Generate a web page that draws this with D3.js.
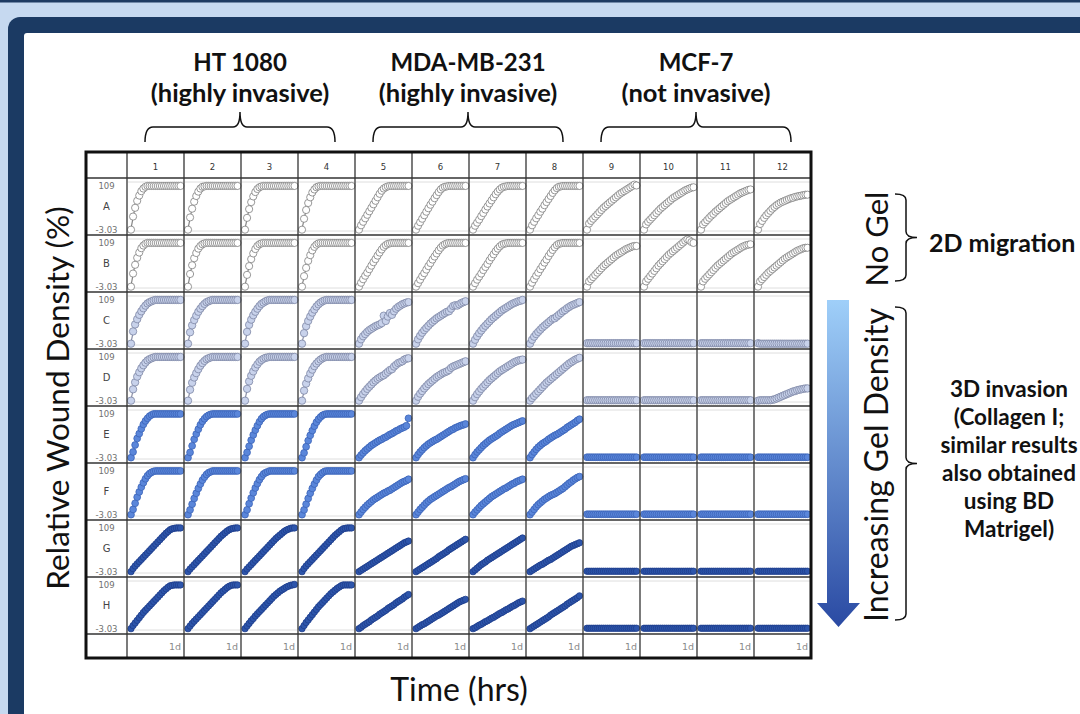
<!DOCTYPE html>
<html><head><meta charset="utf-8">
<script src="https://cdn.jsdelivr.net/npm/d3@7"></script>
<style>body{margin:0;background:#c6d9f0;overflow:hidden}svg{display:block}</style>
</head><body>
<svg id="chart" width="1080" height="714"></svg>
<script>
// ---------------- DATA ----------------
const columns = ["1","2","3","4","5","6","7","8","9","10","11","12"];
const rows = ["A","B","C","D","E","F","G","H"];
const yDomain = [-3.03, 109];
const yTickLabels = ["109", "-3.03"];
const xEndLabel = "1d";
const hours = [0,1,2,3,4,5,6,7,8,9,10,11,12,13,14,15,16,17,18,19,20,21,22,23,24];

const rowA = [
 [0,30,50,66,78,88,94,98,100,100,100,100,100,100,100,100,100,100,100,100,100,100,100,100,100],
 [0,28,48,64,77,87,94,98,99,100,100,100,100,100,100,100,100,100,100,100,100,100,100,100,100],
 [0,27,47,63,76,86,93,97,99,100,100,100,100,100,100,100,100,100,100,100,100,100,100,100,100],
 [0,25,45,61,74,85,92,97,99,100,100,100,100,100,100,100,100,100,100,100,100,100,100,100,100],
 [0,10,18,26,34,42,50,58,66,74,82,89,94,97,99,100,100,100,100,100,100,100,100,100,100],
 [0,9,17,25,33,41,49,57,64,72,79,86,92,96,98,99,100,100,100,100,100,100,100,100,100],
 [0,9,16,23,31,38,46,53,60,67,74,81,87,92,96,98,99,100,100,100,100,100,100,100,100],
 [0,10,18,26,33,41,48,56,63,70,77,84,90,95,98,99,100,100,100,100,100,100,100,100,100],
 [0,14,20,25,30,35,40,45,50,54,58,62,66,70,74,78,82,85,88,91,94,97,100,103,101],
 [0,12,18,23,28,33,38,43,48,52,56,60,64,68,72,75,78,81,84,87,90,92,94,96,97],
 [0,12,17,22,27,32,36,41,45,49,53,57,61,65,68,71,74,77,80,83,85,87,89,91,92],
 [0,13,20,27,33,38,43,48,52,56,59,62,64,66,68,70,72,73,75,76,77,78,79,80,80]
];
const rowB = [
 [0,30,50,66,78,88,94,98,100,100,100,100,100,100,100,100,100,100,100,100,100,100,100,100,100],
 [0,29,49,65,77,87,93,97,99,100,100,100,100,100,100,100,100,100,100,100,100,100,100,100,100],
 [0,27,47,63,76,86,93,97,99,100,100,100,100,100,100,100,100,100,100,100,100,100,100,100,100],
 [0,24,43,59,72,83,91,96,99,100,100,100,100,100,100,100,100,100,100,100,100,100,100,100,100],
 [0,9,17,25,32,40,48,56,63,71,78,85,91,95,98,99,100,100,100,100,100,100,100,100,100],
 [0,8,16,24,31,39,47,54,62,69,76,83,89,94,97,99,100,100,100,100,100,100,100,100,100],
 [0,8,16,23,30,38,45,52,60,67,74,81,87,92,96,98,99,100,100,100,100,100,100,100,100],
 [0,9,17,25,32,40,47,55,62,70,77,84,90,95,98,99,100,100,100,100,100,100,100,100,100],
 [0,12,17,22,27,32,37,42,47,51,55,59,63,67,71,74,77,80,83,86,88,90,92,93,93],
 [0,12,18,24,30,36,42,48,53,58,63,68,73,77,81,85,89,93,97,101,105,108,106,102,100],
 [0,12,18,23,28,33,38,43,48,52,56,60,64,68,72,76,79,82,85,88,91,93,95,96,97],
 [0,12,17,22,27,32,36,40,44,48,52,56,60,64,67,70,73,76,79,82,84,86,88,89,89]
];
const rowC = [
 [0,28,44,56,66,74,81,87,92,95,97,99,100,100,100,100,100,100,100,100,100,100,100,100,100],
 [0,26,42,54,64,73,80,86,91,95,97,99,100,100,100,100,100,100,100,100,100,100,100,100,100],
 [0,27,43,55,65,73,80,86,91,94,97,99,100,100,100,100,100,100,100,100,100,100,100,100,100],
 [0,24,40,52,62,71,78,85,90,94,97,99,100,100,100,100,100,100,100,100,100,100,100,100,100],
 [0,10,17,22,27,31,34,37,40,42,44,47,64,52,62,70,66,74,80,84,87,90,92,94,95],
 [0,10,18,25,31,36,41,46,50,54,58,61,64,67,70,73,74,80,86,88,87,90,93,95,97],
 [0,9,17,24,30,36,41,46,51,56,60,64,68,72,76,79,82,85,88,91,93,95,97,98,100],
 [0,9,16,22,27,32,37,41,45,49,53,57,58,62,66,70,74,77,81,84,87,89,91,93,95],
 [1,1,1,1,1,1,1,1,1,1,1,1,1,1,1,1,1,1,1,1,1,1,1,1,1],
 [1,1,1,1,1,1,1,1,1,1,1,1,1,1,1,1,1,1,1,1,1,1,1,1,1],
 [1,1,1,1,1,1,1,1,1,1,1,1,1,1,1,1,1,1,1,1,1,1,1,1,1],
 [1,0,0,0,0,0,0,0,0,0,0,0,0,0,0,0,0,0,0,0,0,0,0,0,0]
];
const rowD = [
 [0,26,42,55,65,74,81,87,92,95,97,99,100,100,100,100,100,100,100,100,100,100,100,100,100],
 [0,25,41,53,63,72,80,86,91,95,97,99,100,100,100,100,100,100,100,100,100,100,100,100,100],
 [0,27,44,57,67,76,83,89,93,96,98,99,100,100,100,100,100,100,100,100,100,100,100,100,100],
 [0,23,39,51,62,71,79,85,90,94,97,99,100,100,100,100,100,100,100,100,100,100,100,100,100],
 [0,8,15,21,27,32,37,42,46,50,53,56,58,62,66,70,72,78,82,86,88,90,94,96,97],
 [0,9,16,22,28,33,38,42,46,50,54,57,60,63,65,67,70,75,78,80,82,84,86,88,90],
 [0,8,15,21,27,32,37,42,47,51,55,59,63,67,70,73,76,79,82,85,88,90,92,93,94],
 [0,6,11,16,21,26,31,36,41,45,49,53,57,61,65,69,73,77,81,85,88,91,94,96,98],
 [1,1,1,1,1,1,1,1,1,1,1,1,1,1,1,1,1,1,1,1,1,1,1,1,1],
 [1,1,1,1,1,1,1,1,1,1,1,1,1,1,1,1,1,1,1,1,1,1,1,1,1],
 [1,1,1,1,1,1,1,1,1,1,1,1,1,1,1,1,1,1,1,1,1,1,1,1,1],
 [0,1,1,1,1,1,1,2,3,5,7,9,11,13,15,17,19,21,22,24,25,26,27,28,28]
];
const rowE = [
 [0,13,29,44,55,66,76,84,90,95,98,100,100,100,100,100,100,100,100,100,100,100,100,100,100],
 [0,12,27,42,54,65,75,83,89,94,97,99,100,100,100,100,100,100,100,100,100,100,100,100,100],
 [0,12,26,40,52,63,73,82,89,94,97,99,100,100,100,100,100,100,100,100,100,100,100,100,100],
 [0,11,25,39,51,62,72,81,88,93,97,99,100,100,100,100,100,100,100,100,100,100,100,100,100],
 [0,6,11,16,20,24,28,31,34,37,40,42,45,47,50,53,55,58,61,63,66,68,70,73,90],
 [0,7,13,18,23,27,31,34,37,40,42,45,48,51,54,57,60,63,65,68,70,72,74,75,77],
 [0,7,13,18,23,28,32,36,40,43,46,49,52,56,59,62,65,68,71,74,76,78,80,82,84],
 [0,7,13,19,24,28,32,35,38,42,45,48,51,53,56,59,62,65,69,72,75,78,81,85,88],
 [1,1,1,1,1,1,1,1,1,1,1,1,1,1,1,1,1,1,1,1,1,1,1,1,1],
 [1,1,1,1,1,1,1,1,1,1,1,1,1,1,1,1,1,1,1,1,1,1,1,1,1],
 [1,1,1,1,1,1,1,1,1,1,1,1,1,1,1,1,1,1,1,1,1,1,1,1,1],
 [1,1,1,1,1,1,1,1,1,1,1,1,1,1,1,1,1,1,1,1,1,1,1,1,1]
];
const rowF = [
 [0,12,26,40,52,63,73,82,89,94,97,99,100,100,100,100,100,100,100,100,100,100,100,100,100],
 [0,11,24,37,49,60,70,79,86,92,96,98,100,100,100,100,100,100,100,100,100,100,100,100,100],
 [0,11,25,38,50,61,71,80,87,93,96,98,100,100,100,100,100,100,100,100,100,100,100,100,100],
 [0,11,24,37,49,60,70,79,87,92,96,99,100,100,100,100,100,100,100,100,100,100,100,100,100],
 [0,6,12,17,22,26,30,34,37,40,43,46,49,51,54,56,59,62,65,68,71,74,76,78,81],
 [0,6,12,17,22,27,31,35,38,41,44,47,50,53,56,59,62,64,67,70,73,76,78,80,82],
 [0,6,11,16,21,25,29,33,37,41,44,47,50,53,56,59,61,64,67,70,72,75,77,79,81],
 [0,6,12,18,23,27,31,35,38,41,44,46,48,51,54,57,60,64,68,72,75,79,82,85,87],
 [1,1,1,1,1,1,1,1,1,1,1,1,1,1,1,1,1,1,1,1,1,1,1,1,1],
 [1,1,1,1,1,1,1,1,1,1,1,1,1,1,1,1,1,1,1,1,1,1,1,1,1],
 [1,1,1,1,1,1,1,1,1,1,1,1,1,1,1,1,1,1,1,1,1,1,1,1,1],
 [1,1,1,1,1,1,1,1,1,1,1,1,1,1,1,1,1,1,1,1,1,1,1,1,1]
];
const rowG = [
 [0,7,13,18,23,28,33,38,43,48,53,58,63,68,73,78,83,88,92,96,98,99,100,100,100],
 [0,6,11,16,21,26,31,36,41,46,51,56,61,66,71,76,81,85,89,93,96,98,99,100,100],
 [0,6,11,16,21,26,31,36,41,46,51,56,61,66,71,76,80,84,88,92,95,97,99,100,100],
 [0,7,13,18,23,28,33,38,43,48,53,58,63,68,73,78,83,87,91,95,98,99,100,100,100],
 [0,3,6,9,12,15,18,21,24,27,30,33,36,39,42,45,48,51,54,57,60,63,66,68,70],
 [0,3,6,9,12,15,18,21,24,27,30,34,37,40,43,46,50,53,56,59,62,65,68,71,74],
 [0,4,8,12,16,19,22,26,29,32,35,38,41,44,47,50,53,56,59,62,65,68,71,74,77],
 [0,3,6,9,12,15,17,20,23,26,28,31,34,37,40,43,46,49,52,55,58,60,62,64,66],
 [1,1,1,1,1,1,1,1,1,1,1,1,1,1,1,1,1,1,1,1,1,1,1,1,1],
 [1,1,1,1,1,1,1,1,1,1,1,1,1,1,1,1,1,1,1,1,1,1,1,1,1],
 [1,1,1,1,1,1,1,1,1,1,1,1,1,1,1,1,1,1,1,1,1,1,1,1,1],
 [1,1,1,1,1,1,1,1,1,1,1,1,1,1,1,1,1,1,1,1,1,1,1,1,1]
];
const rowH = [
 [0,7,13,19,25,31,37,42,47,52,57,62,67,72,77,82,87,91,95,98,99,100,100,100,100],
 [0,6,12,17,22,27,32,37,42,47,52,57,62,67,72,77,82,86,90,94,97,99,100,100,100],
 [0,6,12,18,23,29,34,39,44,49,54,59,64,69,74,78,82,86,89,92,95,97,99,100,101],
 [0,7,14,20,26,32,38,44,50,55,60,65,70,75,80,84,88,92,95,98,100,100,100,100,100],
 [0,3,7,10,13,16,20,23,26,29,33,36,39,42,46,49,52,55,59,62,65,68,72,75,78],
 [0,3,6,9,11,14,17,20,23,26,29,31,34,37,40,43,46,49,52,55,58,61,63,65,67],
 [0,2,5,8,10,13,16,18,21,24,26,29,32,35,37,40,43,45,48,51,53,56,59,61,63],
 [0,3,6,9,12,15,18,21,24,27,31,34,37,40,43,46,49,52,56,59,62,65,68,71,75],
 [1,1,1,1,1,1,1,1,1,1,1,1,1,1,1,1,1,1,1,1,1,1,1,1,1],
 [1,1,1,1,1,1,1,1,1,1,1,1,1,1,1,1,1,1,1,1,1,1,1,1,1],
 [1,1,1,1,1,1,1,1,1,1,1,1,1,1,1,1,1,1,1,1,1,1,1,1,1],
 [1,1,1,1,1,1,1,1,1,1,1,1,1,1,1,1,1,1,1,1,1,1,1,1,1]
];

const groupTitles = [["HT 1080","(highly invasive)"],["MDA-MB-231","(highly invasive)"],["MCF-7","(not invasive)"]];
const groupColumns = [["1","4"],["5","8"],["9","12"]];
const sideLabelTop = "No Gel";
const sideLabelBottom = "Increasing Gel Density";
const noteTop = "2D migration";
const noteBottom = ["3D invasion","(Collagen I;","similar results","also obtained","using BD","Matrigel)"];
const yTitle = "Relative Wound Density (%)";
const xTitle = "Time (hrs)";

// ---------------- DRAWING ----------------
const seriesByRow = [rowA,rowB,rowC,rowD,rowE,rowF,rowG,rowH];
const svg = d3.select("#chart");
const W = 1080, H = 714;

// page frame
svg.append("rect").attr("width",W).attr("height",H).attr("fill","#c6d9f0");
svg.append("rect").attr("width",W).attr("height",2.5).attr("fill","#1d3a62");
svg.append("rect").attr("x",8).attr("y",17).attr("width",1100).attr("height",760).attr("rx",12).attr("fill","#1b3a63");
svg.append("rect").attr("x",24).attr("y",33).attr("width",1090).attr("height",740).attr("rx",3).attr("fill","#ffffff");

const G = {left:86, top:152, labelW:41, head:26, cell:57, foot:24};
const colScale = d3.scaleBand().domain(columns).range([G.left+G.labelW, G.left+G.labelW+columns.length*G.cell]);
const rowScale = d3.scaleBand().domain(rows).range([G.top+G.head, G.top+G.head+rows.length*G.cell]);
const gridRight = colScale.range()[1];
const rowsBottom = rowScale.range()[1];
const gridBottom = rowsBottom + G.foot;

const styles = [
 {fill:"#ffffff", stroke:"#7e7e7e", line:"#6a6a6a", r:3.6},
 {fill:"#ffffff", stroke:"#7e7e7e", line:"#6a6a6a", r:3.6},
 {fill:"#c8d2eb", stroke:"#7d87a5", line:"#6d7390", r:3.7},
 {fill:"#c8d2eb", stroke:"#7d87a5", line:"#6d7390", r:3.7},
 {fill:"#5a86da", stroke:"#3b63b7", line:"#3b63b7", r:3.4},
 {fill:"#5a86da", stroke:"#3b63b7", line:"#3b63b7", r:3.4},
 {fill:"#2d55ab", stroke:"#1e3e8b", line:"#1e3e8b", r:3.2},
 {fill:"#2d55ab", stroke:"#1e3e8b", line:"#1e3e8b", r:3.2}
];

const gridG = svg.append("g");
gridG.append("rect").attr("x",G.left).attr("y",G.top).attr("width",gridRight-G.left).attr("height",gridBottom-G.top).attr("fill","#fff");

const cellsG = svg.append("g");
rows.forEach((r, ri) => {
  const st = styles[ri];
  columns.forEach((c, ci) => {
    const x0 = colScale(c), y0 = rowScale(r);
    const x = d3.scaleLinear().domain([hours[0], hours[hours.length-1]]).range([x0+4, x0+G.cell-3.5]);
    const y = d3.scaleLinear().domain(yDomain).range([y0+G.cell-4, y0+4]);
    const g = cellsG.append("g");
    [yDomain[0], yDomain[1]].forEach(v => {
      g.append("line").attr("x1",x0+1).attr("x2",x0+G.cell-1).attr("y1",y(v)).attr("y2",y(v))
        .attr("stroke","#dedede").attr("stroke-width",1);
    });
    const vals = seriesByRow[ri][ci];
    const pts = hours.map((h,i) => [h, vals[i]]);
    g.append("path").attr("d", d3.line().x(d=>x(d[0])).y(d=>y(d[1]))(pts))
      .attr("fill","none").attr("stroke",st.line).attr("stroke-width",1);
    g.selectAll("circle").data(pts).join("circle")
      .attr("cx",d=>x(d[0])).attr("cy",d=>y(d[1])).attr("r",st.r)
      .attr("fill",st.fill).attr("stroke",st.stroke).attr("stroke-width",0.8);
  });
});

// grid lines
const linesG = svg.append("g").attr("stroke","#333").attr("stroke-width",1.3);
columns.forEach(c => {
  linesG.append("line").attr("x1",colScale(c)).attr("x2",colScale(c)).attr("y1",G.top).attr("y2",gridBottom);
});
rows.forEach(r => {
  linesG.append("line").attr("x1",G.left).attr("x2",gridRight).attr("y1",rowScale(r)).attr("y2",rowScale(r));
});
linesG.append("line").attr("x1",G.left).attr("x2",gridRight).attr("y1",rowsBottom).attr("y2",rowsBottom);
svg.append("rect").attr("x",G.left).attr("y",G.top).attr("width",gridRight-G.left).attr("height",gridBottom-G.top)
  .attr("fill","none").attr("stroke","#111").attr("stroke-width",3);

// small labels
const small = svg.append("g").attr("font-family","DejaVu Sans, Verdana, sans-serif").attr("font-size",8.5);
columns.forEach(c => {
  small.append("text").attr("x",colScale(c)+G.cell/2).attr("y",G.top+17.5).attr("text-anchor","middle")
    .attr("fill","#333").text(c);
  small.append("text").attr("x",colScale(c)+G.cell-3).attr("y",rowsBottom+16).attr("text-anchor","end")
    .attr("fill","#8a8a8a").attr("font-size",9.5).text(xEndLabel);
});
const lx = G.left + G.labelW/2;
rows.forEach(r => {
  const y0 = rowScale(r);
  small.append("text").attr("x",lx).attr("y",y0+11).attr("text-anchor","middle").attr("fill","#707070").text(yTickLabels[0]);
  small.append("text").attr("x",lx).attr("y",y0+31.5).attr("text-anchor","middle").attr("fill","#444").attr("font-size",10).text(r);
  small.append("text").attr("x",lx).attr("y",y0+55).attr("text-anchor","middle").attr("fill","#707070").text(yTickLabels[1]);
});

// group titles & braces
const FONT = "Lato, Carlito, 'Open Sans', sans-serif";
const hBrace = (x1, x2) => {
  const xm = (x1+x2)/2, yt = 142, yb = 127, yp = 112;
  return `M${x1},${yt} Q${x1},${yb} ${x1+8},${yb} L${xm-7},${yb} Q${xm},${yb} ${xm},${yp} Q${xm},${yb} ${xm+7},${yb} L${x2-8},${yb} Q${x2},${yb} ${x2},${yt}`;
};
groupTitles.forEach((t, i) => {
  const [a, b] = groupColumns[i];
  const x1 = colScale(a) + 18, x2 = colScale(b) + G.cell - 20;
  const xm = (x1+x2)/2;
  svg.append("path").attr("d",hBrace(x1,x2)).attr("fill","none").attr("stroke","#111").attr("stroke-width",1.5);
  svg.append("text").attr("x",xm).attr("y",71).attr("text-anchor","middle").attr("font-family",FONT)
    .attr("font-weight",700).attr("font-size",24).attr("fill","#111").text(t[0]);
  svg.append("text").attr("x",xm).attr("y",102).attr("text-anchor","middle").attr("font-family",FONT)
    .attr("font-weight",700).attr("font-size",25.5).attr("fill","#111").text(t[1]);
});

// axis titles
svg.append("text").attr("transform","translate(69,398) rotate(-90)").attr("text-anchor","middle")
  .attr("font-family",FONT).attr("font-size",31.5).attr("fill","#111").text(yTitle);
svg.append("text").attr("x",459).attr("y",701).attr("text-anchor","middle")
  .attr("font-family",FONT).attr("font-size",32).attr("fill","#111").text(xTitle);

// arrow
const defs = svg.append("defs");
const grad = defs.append("linearGradient").attr("id","arrowGrad").attr("gradientUnits","userSpaceOnUse")
  .attr("x1",0).attr("x2",0).attr("y1",300).attr("y2",627);
grad.append("stop").attr("offset","0%").attr("stop-color","#9fcff9");
grad.append("stop").attr("offset","100%").attr("stop-color","#2a4aa3");
svg.append("path").attr("d","M827,300 L849,300 L849,603 L860,603 L838.5,627 L817,603 L827,603 Z").attr("fill","url(#arrowGrad)");

// side labels
svg.append("text").attr("transform","translate(888,239) rotate(-90)").attr("text-anchor","middle")
  .attr("font-family",FONT).attr("font-size",31).attr("fill","#111").text(sideLabelTop);
svg.append("text").attr("transform","translate(888,465) rotate(-90)").attr("text-anchor","middle")
  .attr("font-family",FONT).attr("font-size",32).attr("fill","#111").text(sideLabelBottom);
const vBrace = (y1, y2) => {
  const ym = (y1+y2)/2, xt = 895, xb = 906, xp = 917;
  return `M${xt},${y1} Q${xb},${y1} ${xb},${y1+6} L${xb},${ym-6} Q${xb},${ym} ${xp},${ym} Q${xb},${ym} ${xb},${ym+6} L${xb},${y2-6} Q${xb},${y2} ${xt},${y2}`;
};
svg.append("path").attr("d",vBrace(194,281)).attr("fill","none").attr("stroke","#111").attr("stroke-width",1.5);
svg.append("path").attr("d",vBrace(307,620)).attr("fill","none").attr("stroke","#111").attr("stroke-width",1.5);
svg.append("text").attr("x",929).attr("y",252).attr("font-family",FONT).attr("font-weight",700)
  .attr("font-size",25).attr("fill","#111").text(noteTop);
noteBottom.forEach((t, i) => {
  svg.append("text").attr("x",1009).attr("y",397 + i*28).attr("text-anchor","middle").attr("font-family",FONT)
    .attr("font-weight",700).attr("font-size",22.5).attr("fill","#111").text(t);
});
</script>
</body></html>
